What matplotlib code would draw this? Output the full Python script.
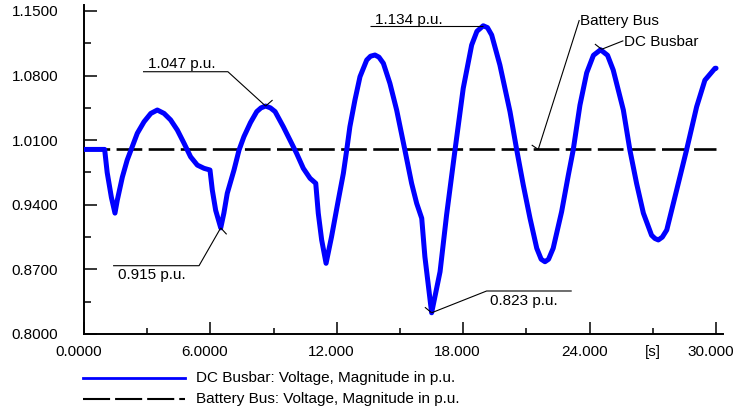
import matplotlib
matplotlib.use("Agg")
import matplotlib.pyplot as plt
from matplotlib.lines import Line2D
from matplotlib.transforms import offset_copy

plt.rcParams['font.family'] = ['Liberation Sans', 'DejaVu Sans']
plt.rcParams['lines.scale_dashes'] = False

# Simulation results (time in s, voltage in p.u.)
time_s = [0.00, 0.98, 1.10, 1.30, 1.47, 1.58, 1.82, 2.05, 2.29, 2.53, 2.85, 3.17,
          3.48, 3.80, 4.11, 4.43, 4.75, 5.06, 5.38, 5.70, 5.98, 6.09, 6.25, 6.49,
          6.64, 6.80, 7.12, 7.36, 7.59, 7.90, 8.20, 8.40, 8.62, 8.85, 9.07, 9.46,
          9.78, 10.09, 10.41, 10.73, 11.00, 11.12, 11.28, 11.49, 11.75, 12.07,
          12.31, 12.47, 12.62, 12.86, 13.10, 13.42, 13.60, 13.81, 14.00, 14.21,
          14.52, 14.84, 15.23, 15.55, 15.79, 16.03, 16.18, 16.50, 16.90, 17.21,
          17.61, 18.00, 18.40, 18.65, 18.95, 19.15, 19.35, 19.74, 20.22, 20.54,
          20.85, 21.17, 21.49, 21.70, 21.88, 22.05, 22.27, 22.67, 22.99, 23.22,
          23.54, 23.86, 24.18, 24.52, 24.85, 25.12, 25.60, 25.91, 26.23, 26.55,
          26.94, 27.10, 27.26, 27.45, 27.66, 28.13, 28.60, 29.08, 29.47, 29.95,
          30.00]
dc_busbar = [1.000, 1.000, 0.975, 0.948, 0.931, 0.945, 0.970, 0.9885, 1.003, 1.0175,
             1.030, 1.039, 1.0427, 1.039, 1.032, 1.021, 1.0066, 0.992, 0.983, 0.9795,
             0.9777, 0.956, 0.934, 0.915, 0.931, 0.9525, 0.9777, 0.9994, 1.0138,
             1.029, 1.041, 1.045, 1.047, 1.045, 1.041, 1.0246, 1.010, 0.9958, 0.9795,
             0.9687, 0.9633, 0.9308, 0.902, 0.8766, 0.9054, 0.945, 0.974, 0.9994,
             1.0246, 1.0535, 1.0788, 1.0969, 1.101, 1.1023, 1.100, 1.0933, 1.0716,
             1.0427, 0.9994, 0.9633, 0.9416, 0.9254, 0.8838, 0.823, 0.8675, 0.929,
             0.9994, 1.0662, 1.1131, 1.128, 1.134, 1.132, 1.124, 1.0915, 1.0409,
             0.9994, 0.9614, 0.9254, 0.8929, 0.881, 0.8783, 0.881, 0.8929, 0.9325,
             0.9723, 0.9994, 1.048, 1.083, 1.102, 1.108, 1.102, 1.086, 1.0427, 0.9994,
             0.963, 0.931, 0.907, 0.9035, 0.9019, 0.905, 0.9127, 0.956, 0.9994,
             1.0463, 1.075, 1.0879, 1.088]
battery_time = [0.0, 30.0]
battery_bus = [1.000, 1.000]

x_major = [0, 6, 12, 18, 24, 30]
x_major_labels = ["0.0000", "6.0000", "12.000", "18.000", "24.000", "30.000"]
x_minor = [3, 9, 15, 21, 27]
y_major = [0.80, 0.87, 0.94, 1.01, 1.08, 1.15]
y_major_labels = ["0.8000", "0.8700", "0.9400", "1.0100", "1.0800", "1.1500"]
y_minor = [0.835, 0.905, 0.975, 1.045, 1.115]

FS = 11

fig = plt.figure(figsize=(7.33, 4.12), dpi=100)
ax = fig.add_axes([84 / 733, 78 / 412, 639 / 733, 329 / 412])

ax.plot(time_s, dc_busbar, color='#0000ff', lw=3.6, solid_joinstyle='round',
        solid_capstyle='round', zorder=3)
ax.plot(battery_time, battery_bus, color='black', lw=1.9, dashes=(18.5, 4.6), zorder=2)

ax.set_xlim(0, 30.33)
ax.set_ylim(0.8, 1.1565)
for s in ('top', 'right'):
    ax.spines[s].set_visible(False)
for s in ('left', 'bottom'):
    ax.spines[s].set_linewidth(1.4)

ax.set_yticks(y_major)
ax.set_yticklabels(y_major_labels)
ax.set_yticks(y_minor, minor=True)
ax.set_xticks(x_major)
ax.set_xticklabels(x_major_labels)
ax.set_xticks(x_minor, minor=True)
ax.tick_params(axis='y', which='major', direction='in', length=9.4, width=1.1,
               pad=18.6, labelsize=FS)
ax.tick_params(axis='y', which='minor', direction='in', length=5, width=1.1)
ax.tick_params(axis='x', which='major', direction='in', length=8.4, width=1.1,
               pad=8.0, labelsize=FS)
ax.tick_params(axis='x', which='minor', direction='in', length=4, width=1.1)
for lab in ax.get_xticklabels():
    lab.set_transform(offset_copy(lab.get_transform(), fig=fig, x=-4, units='points'))
ax.text(27, 0.0, "[s]", transform=offset_copy(ax.get_xaxis_transform(), fig=fig,
        y=-8.0, units='points'), ha='center', va='top', fontsize=FS)

# Peak / valley annotations
ann_kw = dict(color='black', lw=0.8, zorder=4, solid_capstyle='butt')
txt_kw = dict(fontsize=FS, zorder=5)

# 1.047 p.u.
ax.plot([2.80, 6.83, 8.62], [1.0842, 1.0842, 1.047], **ann_kw)
ax.plot([8.62, 8.95], [1.047, 1.0535], **ann_kw)
ax.text(3.04, 1.0877, "1.047 p.u.", ha='left', va='baseline', **txt_kw)

# 0.915 p.u.
ax.plot([1.38, 5.46, 6.49], [0.874, 0.874, 0.915], **ann_kw)
ax.plot([6.49, 6.77], [0.915, 0.908], **ann_kw)
ax.text(1.61, 0.8596, "0.915 p.u.", ha='left', va='baseline', **txt_kw)

# 1.134 p.u.
ax.plot([13.57, 18.95], [1.134, 1.134], **ann_kw)
ax.text(13.81, 1.1364, "1.134 p.u.", ha='left', va='baseline', **txt_kw)

# 0.823 p.u.
ax.plot([23.15, 19.11, 16.50], [0.8466, 0.8466, 0.823], **ann_kw)
ax.plot([16.50, 16.18], [0.823, 0.829], **ann_kw)
ax.text(19.27, 0.8314, "0.823 p.u.", ha='left', va='baseline', **txt_kw)

# Curve names
ax.plot([23.51, 21.56], [1.1402, 1.000], **ann_kw)
ax.plot([21.56, 21.25], [1.000, 1.0048], **ann_kw)
ax.text(23.54, 1.1348, "Battery Bus", ha='left', va='baseline', **txt_kw)

ax.plot([25.60, 24.57], [1.1178, 1.1085], **ann_kw)
ax.plot([24.57, 24.25], [1.1085, 1.1142], **ann_kw)
ax.text(25.62, 1.1121, "DC Busbar", ha='left', va='baseline', **txt_kw)

# Legend below the axes
fig.add_artist(Line2D([83 / 733, 185 / 733], [1 - 377.7 / 412] * 2,
                      transform=fig.transFigure, color='#0000ff', lw=2.0))
fig.add_artist(Line2D([83 / 733, 185 / 733], [1 - 399 / 412] * 2,
                      transform=fig.transFigure, color='black', lw=1.5,
                      dashes=(19.5, 3.6)))
fig.text(196.5 / 733, 1 - 377.7 / 412, "DC Busbar: Voltage, Magnitude in p.u.",
         ha='left', va='center', fontsize=FS)
fig.text(196.5 / 733, 1 - 399 / 412, "Battery Bus: Voltage, Magnitude in p.u.",
         ha='left', va='center', fontsize=FS)

fig.savefig("out.png", dpi=100)
